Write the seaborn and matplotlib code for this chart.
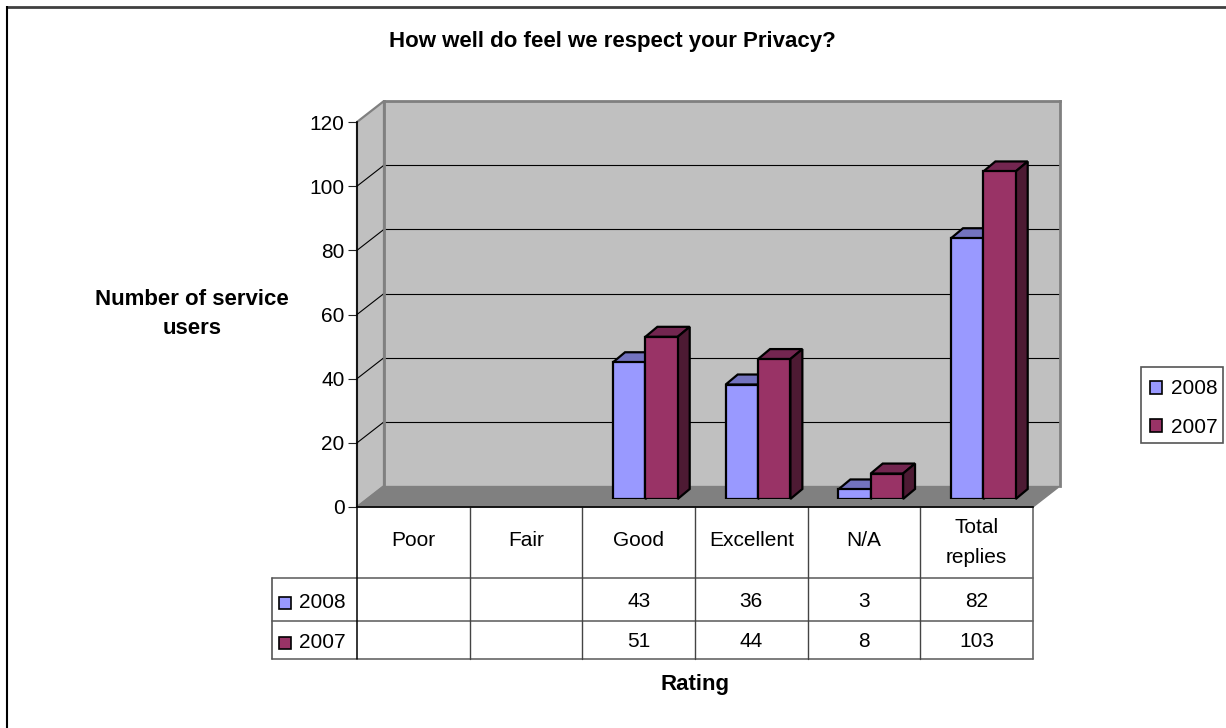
import matplotlib

matplotlib.use("Agg")

import matplotlib.pyplot as plt
import numpy as np
import pandas as pd
import seaborn as sns
from matplotlib.patches import Polygon, Rectangle
from matplotlib.transforms import IdentityTransform


WIDTH = 1226
HEIGHT = 728

RATINGS = ["Poor", "Fair", "Good", "Excellent", "N/A", "Total replies"]
YEARS = ["2008", "2007"]
VALUES_2008 = [np.nan, np.nan, 43, 36, 3, 82]
VALUES_2007 = [np.nan, np.nan, 51, 44, 8, 103]
Y_TICKS = [0, 20, 40, 60, 80, 100, 120]

TITLE = "How well do feel we respect your Privacy?"
Y_TITLE = ["Number of service", "users"]
X_TITLE = "Rating"

FRONT = {"2008": "#9999FF", "2007": "#993366"}
TOP = {"2008": "#7373BF", "2007": "#732650"}
SIDE = {"2008": "#4D4D80", "2007": "#4D1A33"}
WALL = "#C0C0C0"
FLOOR = "#808080"

# plot box in pixels: front plane, back wall and bar plane
LEFT, RIGHT, BASE, AXIS_TOP = 357, 1033, 507, 122
DEPTH_X, DEPTH_Y = 27, 21
COL_W = (RIGHT - LEFT) / len(RATINGS)
BAR_DX, BAR_BASE, BAR_SCALE = 6.7, 499, 3.18
BAR_DEPTH_X, BAR_DEPTH_Y = 12, 10
TABLE_LEFT, ROW_1, ROW_2, ROW_3 = 272, 578, 621, 659
TITLE_SIZE = 16
TABLE_SIZE = 15


def add_axes(x0, x1, y_top, y_bottom, zorder):
    ax = plt.gcf().add_axes(
        [x0 / WIDTH, 1 - y_bottom / HEIGHT, (x1 - x0) / WIDTH, (y_bottom - y_top) / HEIGHT]
    )
    ax.set_zorder(zorder)
    return ax


def draw_frame():
    frame = add_axes(0, WIDTH, 0, HEIGHT, 0)
    frame.set_xlim(0, WIDTH)
    frame.set_ylim(HEIGHT, 0)
    frame.axis("off")

    # chart border only shows on the top and left
    frame.plot([6, WIDTH], [7, 7], color="#404040", lw=2.0, solid_capstyle="butt")
    frame.plot([6.5, 6.5], [6, HEIGHT], color="black", lw=1.5, solid_capstyle="butt")

    back_left = LEFT + DEPTH_X
    back_base = BASE - DEPTH_Y
    frame.add_patch(Polygon(
        [(LEFT, BASE), (LEFT, AXIS_TOP), (back_left, AXIS_TOP - DEPTH_Y), (back_left, back_base)],
        facecolor=WALL, edgecolor=FLOOR, lw=1.6,
    ))
    frame.add_patch(Polygon(
        [(LEFT, BASE), (back_left, back_base), (RIGHT + DEPTH_X, back_base), (RIGHT, BASE)],
        facecolor=FLOOR, edgecolor=FLOOR, lw=1.0, zorder=5,
    ))
    return frame


def draw_wall():
    wall = add_axes(LEFT + DEPTH_X, RIGHT + DEPTH_X, AXIS_TOP - DEPTH_Y, BASE - DEPTH_Y, 1)
    wall.set_facecolor(WALL)
    wall.set_ylim(0, 120)
    wall.set_xticks([])
    wall.set_yticks(Y_TICKS)
    wall.tick_params(left=False, labelleft=False)
    wall.grid(axis="y", color="black", lw=0.8)
    wall.set_axisbelow(True)
    for spine in wall.spines.values():
        spine.set_color(FLOOR)
        spine.set_linewidth(2.0)
    wall.spines["bottom"].set_visible(False)


def draw_axis(frame):
    ax = add_axes(LEFT, RIGHT, AXIS_TOP, BASE, 2)
    ax.patch.set_alpha(0)
    ax.set_ylim(0, 120)
    ax.set_xlim(-0.5, len(RATINGS) - 0.5)
    ax.set_xticks([])
    ax.set_yticks(Y_TICKS)
    ax.tick_params(axis="y", left=True, length=6.5, width=0.8, pad=2.5, labelsize=15, color="#222222")
    for label in ax.get_yticklabels():
        label.set_verticalalignment("center_baseline")
    for name in ["top", "right"]:
        ax.spines[name].set_visible(False)
    ax.spines["left"].set_color("black")
    ax.spines["left"].set_linewidth(1.2)
    ax.spines["bottom"].set_color("black")
    ax.spines["bottom"].set_linewidth(1.2)

    # depth lines on the side wall
    for tick in Y_TICKS[1:-1]:
        y = BASE - (BASE - AXIS_TOP) * tick / 120
        frame.plot([LEFT, LEFT + DEPTH_X], [y, y - DEPTH_Y], color="black", lw=0.8)


def draw_bars(df):
    bar_ax = add_axes(
        LEFT + BAR_DX, RIGHT + BAR_DX, BAR_BASE - 120 * BAR_SCALE, BAR_BASE, 3
    )
    sns.barplot(
        data=df,
        x="rating",
        y="count",
        hue="year",
        order=RATINGS,
        hue_order=YEARS,
        palette=FRONT,
        saturation=1,
        width=0.574,
        gap=0,
        edgecolor="black",
        linewidth=1.6,
        legend=False,
        ax=bar_ax,
        zorder=3,
    )
    bar_ax.set_xlim(-0.5, len(RATINGS) - 0.5)
    bar_ax.set_ylim(0, 120)
    bar_ax.axis("off")

    for year, container in zip(YEARS, bar_ax.containers):
        for bar in container:
            height = bar.get_height()
            if not np.isfinite(height) or height <= 0:
                continue
            x0 = bar.get_x()
            x1 = x0 + bar.get_width()
            (px0, py0), (px1, py1) = bar_ax.transData.transform([(x0, 0), (x1, height)])
            shift = np.array([BAR_DEPTH_X, BAR_DEPTH_Y])
            top = [(px0, py1), (px1, py1), np.array((px1, py1)) + shift, np.array((px0, py1)) + shift]
            side = [(px1, py0), (px1, py1), np.array((px1, py1)) + shift, np.array((px1, py0)) + shift]
            for points, color in [(top, TOP[year]), (side, SIDE[year])]:
                bar_ax.add_patch(Polygon(
                    points, closed=True, facecolor=color, edgecolor="black", lw=1.6,
                    transform=IdentityTransform(), clip_on=False, zorder=2,
                ))


def draw_table(frame):
    for y in [ROW_1, ROW_2, ROW_3]:
        frame.plot([TABLE_LEFT, RIGHT], [y, y], color="#666666", lw=1.2)
    frame.plot([RIGHT, RIGHT], [BASE, ROW_3], color="#666666", lw=1.2)
    frame.plot([TABLE_LEFT, TABLE_LEFT], [ROW_1, ROW_3], color="#555555", lw=1.2)
    frame.plot([LEFT, LEFT], [BASE, ROW_3], color="black", lw=1.1)
    for i in range(1, len(RATINGS)):
        x = LEFT + i * COL_W
        frame.plot([x, x], [BASE, ROW_3], color="#444444", lw=1.0)

    for i, rating in enumerate(RATINGS):
        x = LEFT + (i + 0.5) * COL_W
        words = rating.split(" ")
        baselines = [533, 563] if len(words) > 1 else [546.5]
        for word, y in zip(words, baselines):
            frame.text(x, y, word, ha="center", va="baseline", fontsize=TABLE_SIZE)
        for y, values in [(607, VALUES_2008), (647, VALUES_2007)]:
            if np.isfinite(values[i]):
                frame.text(x, y, str(values[i]), ha="center", va="baseline", fontsize=TABLE_SIZE)

    for year, y, base in zip(YEARS, [603, 642.5], [607.5, 647.5]):
        frame.add_patch(Rectangle(
            (278.5, y - 6), 12, 12, facecolor=FRONT[year], edgecolor="black", lw=1.2
        ))
        frame.text(299, base, year, ha="left", va="baseline", fontsize=TABLE_SIZE)


def draw_legend(frame):
    # box drawn by hand, its padding differs per side in the original
    frame.add_patch(Rectangle(
        (1141, 367), 81.5, 76, facecolor="white", edgecolor="#555555", lw=1.2
    ))
    handles = [
        Rectangle((0, 0), 1, 1, facecolor=FRONT[year], edgecolor="black", lw=1.2)
        for year in YEARS
    ]
    frame.legend(
        handles,
        YEARS,
        loc="upper right",
        bbox_to_anchor=(1217.5 / WIDTH, 1 - 379.5 / HEIGHT),
        fontsize=TABLE_SIZE,
        frameon=False,
        handlelength=0.58,
        handleheight=0.58,
        handletextpad=0.43,
        labelspacing=0.95,
        borderpad=0,
        borderaxespad=0,
    )


def draw_titles(frame):
    frame.text(612.5, 46.5, TITLE, ha="center", va="baseline", fontsize=TITLE_SIZE, fontweight="bold")
    for line, y in zip(Y_TITLE, [305, 334]):
        frame.text(192, y, line, ha="center", va="baseline", fontsize=TITLE_SIZE, fontweight="bold")
    frame.text(695, 690, X_TITLE, ha="center", va="baseline", fontsize=TITLE_SIZE, fontweight="bold")


def main() -> None:
    sns.set_theme(style="white")
    plt.rcParams["font.family"] = ["Liberation Sans", "DejaVu Sans"]
    plt.rcParams["text.color"] = "black"
    plt.rcParams["ytick.color"] = "black"

    df = pd.DataFrame({
        "rating": RATINGS * 2,
        "year": [YEARS[0]] * len(RATINGS) + [YEARS[1]] * len(RATINGS),
        "count": VALUES_2008 + VALUES_2007,
    })

    plt.figure(figsize=(WIDTH / 100, HEIGHT / 100), dpi=100, facecolor="white")
    frame = draw_frame()
    draw_wall()
    draw_axis(frame)
    draw_bars(df)
    draw_table(frame)
    draw_legend(frame)
    draw_titles(frame)
    plt.savefig("out.png", dpi=100)
    plt.close()


if __name__ == "__main__":
    main()
